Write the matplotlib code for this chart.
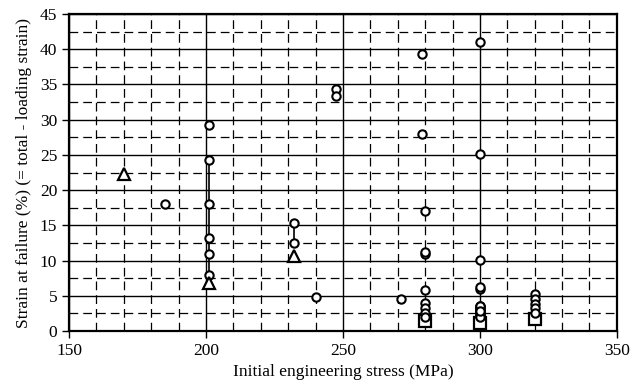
import matplotlib
matplotlib.use("Agg")
import matplotlib.pyplot as plt
from matplotlib.ticker import MultipleLocator

plt.rcParams["font.family"] = ["Liberation Serif", "DejaVu Serif"]

# open circles
circ_x = [185, 201, 201, 201, 201, 201, 201, 232, 232, 240, 247.5, 247.5,
          271, 279, 279, 280, 280, 280, 280, 280, 280, 280, 280,
          300, 300, 300, 300, 300, 300, 300, 300, 300, 300, 300, 300, 300,
          300, 300, 300, 300,
          320, 320, 320, 320, 320]
circ_y = [18.0, 29.3, 24.3, 18.0, 13.2, 10.9, 8.0, 15.4, 12.5, 4.9, 34.4, 33.3,
          4.5, 39.3, 28.0, 17.0, 11.0, 11.2, 5.8, 4.0, 3.3, 2.6, 2.0,
          41.0, 25.1, 10.1, 6.0, 6.3, 3.6, 3.4, 3.2, 3.0, 2.8, 2.6, 2.4, 2.2,
          2.1, 2.0, 3.5, 2.9,
          5.2, 4.5, 3.9, 3.3, 2.5]
# triangles
tri_x = [170, 201, 232]
tri_y = [22.3, 6.8, 10.7]
# squares
sq_x = [280, 300, 320]
sq_y = [1.4, 1.1, 1.7]
# connecting lines
line_a_x = [201, 201]
line_a_y = [24.3, 6.8]
line_b_x = [232, 232]
line_b_y = [15.4, 12.5]

fig, ax = plt.subplots(figsize=(6.34, 3.89), dpi=100)
fig.subplots_adjust(left=0.109, right=0.973, top=0.964, bottom=0.149)

ax.set_xlim(150, 350)
ax.set_ylim(0, 45)
ax.xaxis.set_major_locator(MultipleLocator(50))
ax.xaxis.set_minor_locator(MultipleLocator(10))
ax.yaxis.set_major_locator(MultipleLocator(5))
ax.yaxis.set_minor_locator(MultipleLocator(2.5))
ax.grid(which="minor", color="black", ls=(0, (7, 4)), lw=0.9)
ax.grid(which="major", color="black", ls="-", lw=1.0)
ax.set_axisbelow(True)
ax.tick_params(which="minor", length=0)
ax.tick_params(which="major", direction="out", length=5, width=1, labelsize=12.5, color="black")
for s in ax.spines.values():
    s.set_linewidth(1.6)

ax.plot(line_a_x, line_a_y, color="black", lw=1.2, zorder=3)
ax.plot(line_b_x, line_b_y, color="black", lw=1.2, zorder=3)
ax.plot(circ_x, circ_y, "o", mfc="white", mec="black", mew=1.5, ms=6, ls="none", zorder=4)
ax.plot(tri_x, tri_y, "^", mfc="white", mec="black", mew=1.6, ms=9, ls="none", zorder=4)
ax.plot(sq_x, sq_y, "s", mfc="white", mec="black", mew=1.6, ms=8, ls="none", zorder=3)

ax.set_xlabel("Initial engineering stress (MPa)", fontsize=12.5, labelpad=4)
ax.set_ylabel("Strain at failure (%) (= total - loading strain)", fontsize=12.5, labelpad=6)

plt.savefig("out.png", dpi=100)
